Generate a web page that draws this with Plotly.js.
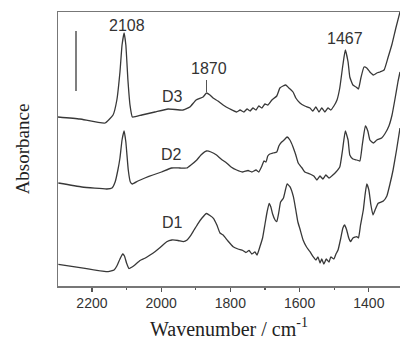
<!DOCTYPE html>
<html>
<head>
<meta charset="utf-8">
<script src="https://cdn.plot.ly/plotly-3.0.1.min.js"></script>
<style>html,body{margin:0;padding:0;background:#fff;}#chart{width:400px;height:340px;}</style>
</head>
<body>
<div id="chart"></div>
<script>
// Wavenumbers (cm-1) and absorbance (arbitrary units, offset spectra)
const wnD3 = [2298,2235,2162,2139,2128,2119,2113,2107,2102,2096,2090,2083,2056,2018,1980,1937,1917,1899,1879,1869,1859,1850,1836,1821,1801,1782,1772,1761,1752,1743,1735,1726,1718,1709,1700,1692,1680,1666,1657,1648,1640,1631,1619,1611,1599,1585,1570,1562,1553,1544,1536,1527,1518,1510,1501,1492,1484,1475,1468,1460,1455,1446,1437,1430,1423,1414,1406,1397,1387,1377,1368,1356,1345,1333,1322,1310];
const absD3 = [1.69,1.67,1.63,1.71,1.86,2.14,2.41,2.53,2.41,2.06,1.81,1.69,1.71,1.74,1.77,1.76,1.79,1.86,1.89,1.93,1.91,1.88,1.85,1.81,1.77,1.74,1.76,1.74,1.77,1.75,1.78,1.76,1.80,1.78,1.82,1.81,1.86,1.90,1.98,2.00,2.01,1.98,1.94,1.88,1.83,1.80,1.78,1.75,1.79,1.74,1.78,1.74,1.78,1.76,1.80,1.86,1.98,2.21,2.36,2.24,2.09,2.01,1.99,1.97,2.08,2.19,2.18,2.14,2.11,2.13,2.14,2.16,2.28,2.42,2.58,2.74];

const wnD2 = [2297,2229,2157,2142,2133,2125,2119,2113,2107,2102,2095,2089,2083,2067,2047,2024,1999,1970,1946,1926,1914,1897,1885,1869,1856,1840,1827,1811,1798,1782,1764,1749,1738,1726,1718,1709,1703,1697,1692,1686,1677,1666,1660,1652,1645,1636,1628,1619,1611,1604,1593,1585,1570,1559,1550,1541,1533,1524,1515,1504,1495,1484,1476,1468,1460,1455,1446,1435,1426,1419,1410,1403,1397,1387,1377,1363,1354,1342,1333,1325,1316,1310];
const absD2 = [1.03,0.99,0.97,0.98,1.04,1.16,1.28,1.46,1.55,1.44,1.16,1.04,1.02,1.05,1.08,1.11,1.14,1.18,1.18,1.18,1.21,1.26,1.31,1.35,1.34,1.31,1.27,1.23,1.19,1.16,1.14,1.155,1.14,1.16,1.14,1.20,1.25,1.24,1.30,1.32,1.33,1.34,1.40,1.44,1.46,1.49,1.46,1.39,1.31,1.23,1.18,1.14,1.12,1.10,1.06,1.10,1.07,1.11,1.08,1.11,1.14,1.19,1.36,1.55,1.46,1.31,1.27,1.26,1.25,1.41,1.60,1.55,1.46,1.43,1.46,1.48,1.52,1.60,1.71,1.86,2.04,2.14];

const wnD1 = [2297,2220,2153,2136,2128,2119,2111,2106,2100,2093,2084,2076,2061,2047,2032,2018,2003,1984,1969,1951,1936,1925,1917,1905,1893,1882,1869,1859,1849,1839,1830,1821,1807,1792,1778,1764,1755,1746,1738,1729,1723,1715,1707,1700,1694,1688,1683,1678,1671,1666,1660,1655,1647,1641,1636,1628,1618,1611,1605,1599,1590,1580,1570,1561,1553,1547,1541,1536,1530,1523,1515,1510,1501,1495,1489,1481,1475,1470,1464,1458,1453,1446,1435,1430,1424,1416,1411,1406,1400,1394,1388,1382,1373,1358,1348,1339,1330,1320,1310];
const absD1 = [0.217,0.177,0.143,0.16,0.20,0.27,0.32,0.30,0.23,0.175,0.19,0.21,0.255,0.277,0.31,0.343,0.385,0.443,0.46,0.455,0.443,0.46,0.493,0.56,0.627,0.68,0.725,0.705,0.677,0.61,0.53,0.51,0.45,0.393,0.37,0.355,0.335,0.355,0.32,0.34,0.31,0.39,0.48,0.62,0.74,0.827,0.79,0.72,0.66,0.643,0.74,0.84,0.877,0.96,1.02,0.993,0.893,0.76,0.64,0.57,0.46,0.39,0.343,0.293,0.26,0.29,0.23,0.27,0.22,0.27,0.24,0.29,0.27,0.32,0.36,0.48,0.58,0.61,0.56,0.48,0.443,0.48,0.493,0.48,0.61,0.76,0.91,1.02,0.96,0.81,0.71,0.76,0.827,0.85,0.90,1.02,1.16,1.36,1.58];

const xTicks = [2200, 2000, 1800, 1600, 1400];
const seriesNames = ['D1', 'D2', 'D3'];
const peakLabels = ['2108', '1870', '1467'];

const lineStyle = {color: '#383838', width: 1.3, shape: 'spline', smoothing: 0.4};
const traces = [
  {x: wnD1, y: absD1, name: seriesNames[0]},
  {x: wnD2, y: absD2, name: seriesNames[1]},
  {x: wnD3, y: absD3, name: seriesNames[2]}
].map(t => Object.assign(t, {type: 'scatter', mode: 'lines', line: lineStyle, hoverinfo: 'skip'}));

const txtFont = {family: 'Liberation Sans, Arial, sans-serif', size: 16, color: '#333'};
const annPos = {
  '2108': [2100, 2.61], '1870': [1862, 2.18], '1467': [1468, 2.48],
  'D3': [1967, 1.90], 'D2': [1969, 1.32], 'D1': [1967, 0.635]
};
const annotations = peakLabels.concat(seriesNames).map(s => ({
  x: annPos[s][0], y: annPos[s][1], xref: 'x', yref: 'y', text: s,
  showarrow: false, font: txtFont
}));

const layout = {
  width: 400, height: 340,
  margin: {l: 58, r: 0, t: 12, b: 54},
  paper_bgcolor: '#fff', plot_bgcolor: '#fff',
  showlegend: false,
  xaxis: {
    range: [2298, 1310], tickvals: xTicks, ticktext: xTicks.map(String),
    ticks: 'outside', ticklen: 4, tickwidth: 1.2, tickcolor: '#555',
    minor: {tickvals: [2300, 2100, 1900, 1700, 1500, 1300], ticks: 'outside', ticklen: 2, tickcolor: '#555', tickwidth: 1.2},
    showline: true, linecolor: '#777', linewidth: 1.5, mirror: true,
    showgrid: false, zeroline: false,
    tickfont: {family: 'Liberation Sans, Arial, sans-serif', size: 14, color: '#333'},
    title: {text: 'Wavenumber / cm<sup>-1</sup>', font: {family: 'Liberation Serif, Times New Roman, serif', size: 20, color: '#222'}, standoff: 11}
  },
  yaxis: {
    range: [0, 2.74], showline: true, linecolor: '#777', linewidth: 1.5,
    showticklabels: false, ticks: '', showgrid: false, zeroline: false,
    title: {text: 'Absorbance', font: {family: 'Liberation Serif, Times New Roman, serif', size: 19, color: '#222'}, standoff: 22}
  },
  annotations: annotations,
  shapes: [
    {type: 'line', xref: 'x', yref: 'y', x0: 2246, x1: 2246, y0: 1.95, y1: 2.55, line: {color: '#555', width: 1.5}},
    {type: 'line', xref: 'x', yref: 'y', x0: 1869, x1: 1869, y0: 1.94, y1: 2.06, line: {color: '#555', width: 1}}
  ]
};

Plotly.newPlot('chart', traces, layout, {displayModeBar: false, staticPlot: true});
</script>
</body>
</html>
